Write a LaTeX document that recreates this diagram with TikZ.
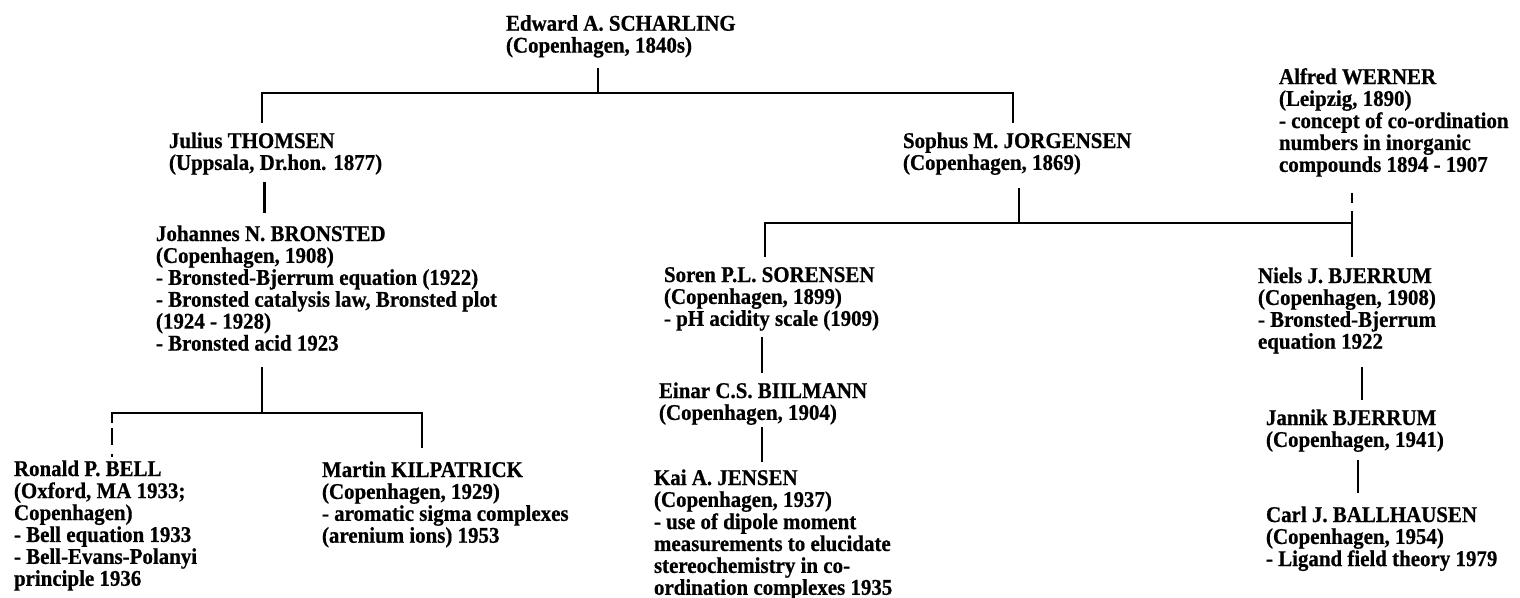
\documentclass[tikz,border=0pt]{standalone}
\usepackage{fontspec}
\setmainfont{Liberation Serif}[BoldFeatures={FakeStretch=0.93,FakeBold=0.6}]
\newcommand{\entry}[4]{\node[person] (#1) at (#2,#3) {\begin{tabular}[t]{@{}l@{}}#4\end{tabular}};}
\begin{document}
\begin{tikzpicture}[x=1pt,y=-1pt,
  person/.style={anchor=base west,inner sep=0pt,outer sep=0pt,
    font=\fontsize{22.5}{21}\selectfont\bfseries},
  link/.style={line width=2.6pt,line cap=butt,line join=miter}]
\useasboundingbox[fill=white] (0,0) rectangle (1520,597);
% people
\entry{sch}{506}{30.7}{Edward A. SCHARLING\\(Copenhagen, 1840s)}
\entry{tho}{169}{148}{Julius THOMSEN\\(Uppsala, Dr.hon. 1877)}
\entry{jor}{903}{148}{Sophus M. JORGENSEN\\(Copenhagen, 1869)}
\entry{wer}{1279}{84}{Alfred WERNER\\(Leipzig, 1890)\\- concept of co-ordination\\numbers in inorganic\\compounds 1894 - 1907}
\entry{bro}{156}{241}{Johannes N. BRONSTED\\(Copenhagen, 1908)\\- Bronsted-Bjerrum equation (1922)\\- Bronsted catalysis law, Bronsted plot\\(1924 - 1928)\\- Bronsted acid 1923}
\entry{sor}{664}{282}{Soren P.L. SORENSEN\\(Copenhagen, 1899)\\- pH acidity scale (1909)}
\entry{nbj}{1258}{283}{Niels J. BJERRUM\\(Copenhagen, 1908)\\- Bronsted-Bjerrum\\equation 1922}
\entry{bii}{659}{398}{Einar C.S. BIILMANN\\(Copenhagen, 1904)}
\entry{jen}{654}{485}{Kai A. JENSEN\\(Copenhagen, 1937)\\- use of dipole moment\\measurements to elucidate\\stereochemistry in co-\\ordination complexes 1935}
\entry{jbj}{1266}{425}{Jannik BJERRUM\\(Copenhagen, 1941)}
\entry{bal}{1266}{522}{Carl J. BALLHAUSEN\\(Copenhagen, 1954)\\- Ligand field theory 1979}
\entry{bel}{14}{476}{Ronald P. BELL\\(Oxford, MA 1933;\\Copenhagen)\\- Bell equation 1933\\- Bell-Evans-Polanyi\\principle 1936}
\entry{kil}{322}{477}{Martin KILPATRICK\\(Copenhagen, 1929)\\- aromatic sigma complexes\\(arenium ions) 1953}
% connector end points and junctions
\coordinate (sch-out) at (598,68);
\coordinate (j1) at (598,93);
\coordinate (j1l) at (262,93);
\coordinate (j1r) at (1013,93);
\coordinate (tho-in) at (262,123);
\coordinate (jor-in) at (1013,123);
\coordinate (tho-out) at (264.6,182);
\coordinate (bro-in) at (264.6,213);
\coordinate (bro-out) at (262,367);
\coordinate (j2) at (262,413);
\coordinate (j2l) at (112,413);
\coordinate (j2r) at (422,413);
\coordinate (kil-in) at (422,448);
\coordinate (jor-out) at (1019,188);
\coordinate (j3) at (1019,223);
\coordinate (j3l) at (765,223);
\coordinate (j3r) at (1352,223);
\coordinate (sor-in) at (765,257);
\coordinate (nbj-in) at (1352,257);
\coordinate (wer-out) at (1352,193);
\coordinate (sor-out) at (762,337);
\coordinate (bii-in) at (762,373);
\coordinate (bii-out) at (762,427);
\coordinate (jen-in) at (762,462);
\coordinate (nbj-out) at (1362,367);
\coordinate (jbj-in) at (1362,400);
\coordinate (jbj-out) at (1358,460);
\coordinate (bal-in) at (1358,493);
\coordinate (bel-in) at (112,457);
% connectors
\draw[link] (sch-out) -- (j1);
\draw[link] (tho-in) -- (j1l) -- (j1r) -- (jor-in);
\draw[link] (tho-out) -- (bro-in);
\draw[link] (bro-out) -- (j2);
\draw[link] (kil-in) -- (j2r) -- (j2l) -- ([yshift=-10pt]j2l);
\draw[link,dash pattern=on 0pt off 5pt on 17pt off 9pt on 3pt off 20pt] ([yshift=-10pt]j2l) -- (bel-in);
\draw[link] (jor-out) -- (j3);
\draw[link] (sor-in) -- (j3l) -- (j3r) -- (nbj-in);
\draw[link,dash pattern=on 10pt off 8pt on 20pt off 0pt] (wer-out) -- (j3r);
\draw[link] (sor-out) -- (bii-in);
\draw[link] (bii-out) -- (jen-in);
\draw[link] (nbj-out) -- (jbj-in);
\draw[link] (jbj-out) -- (bal-in);
\end{tikzpicture}
\end{document}
